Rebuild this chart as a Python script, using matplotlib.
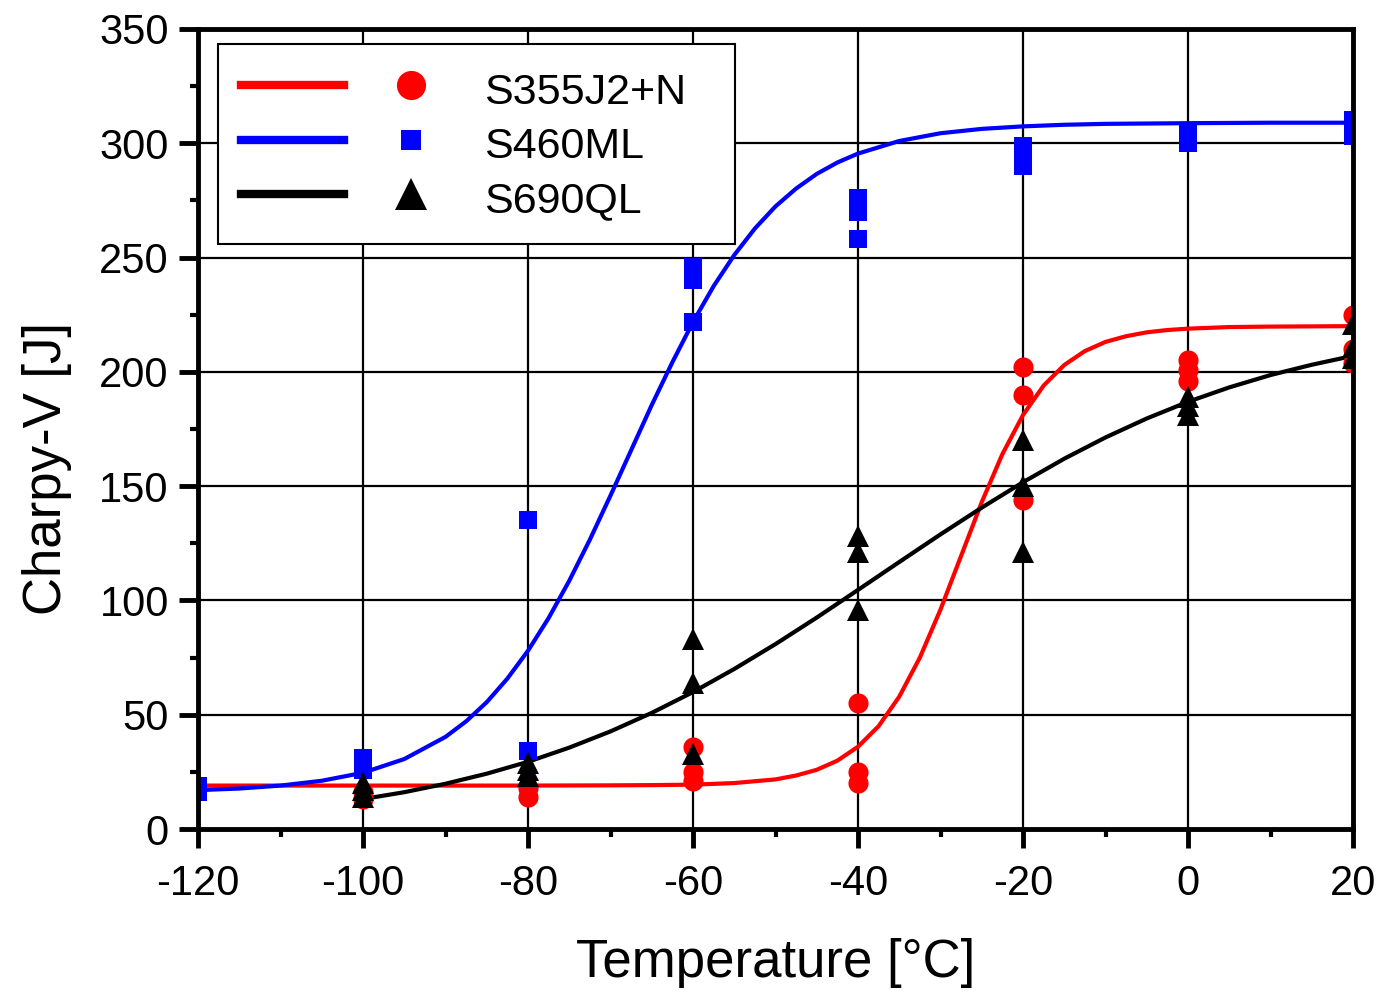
import matplotlib
matplotlib.use('Agg')
import matplotlib.pyplot as plt
from matplotlib.lines import Line2D
from matplotlib.legend_handler import HandlerTuple
from matplotlib.ticker import MultipleLocator

plt.rcParams['font.family'] = ['Liberation Sans', 'DejaVu Sans']
plt.rcParams['axes.unicode_minus'] = False

# measured Charpy-V values (temperature, energy)
s355_T = [-100, -100, -80, -80, -60, -60, -60, -40, -40, -40, -20, -20, -20, 0, 0, 0, 20, 20, 20]
s355_E = [13, 16, 14, 18, 36, 25, 21, 55, 25, 20, 202, 190, 144, 205, 201, 196, 225, 210, 204]

s460_T = [-120, -120, -100, -100, -80, -80, -60, -60, -60, -40, -40, -40, -20, -20, -20, 0, 0, 20, 20]
s460_E = [16, 19, 26, 31, 135, 34, 246, 240, 222, 276, 270, 258, 299, 294, 290, 305, 300, 310, 303]

s690_T = [-100, -100, -100, -80, -80, -80, -60, -60, -60, -40, -40, -40, -20, -20, -20, 0, 0, 0, 20, 20, 20]
s690_E = [20, 17, 14, 29, 26, 23, 83, 64, 33, 128, 121, 96, 170, 150, 121, 189, 185, 181, 221, 211, 206]

# fitted transition curves
s355_fit_T = [-120, -100, -80, -70, -65, -60, -55, -50, -47.5, -45, -42.5, -40, -37.5, -35, -32.5,
              -30, -27.5, -25, -22.5, -20, -17.5, -15, -12.5, -10, -7.5, -5, -2.5, 0, 5, 10, 20]
s355_fit_E = [19.0, 19.0, 19.0, 19.1, 19.2, 19.4, 20.1, 21.7, 23.4, 25.9, 29.9, 36.0, 45.0, 57.9, 75.0,
              96.0, 119.5, 143.0, 164.0, 181.1, 194.0, 203.0, 209.1, 213.1, 215.6, 217.3, 218.3, 218.9,
              219.6, 219.8, 220.0]

s460_fit_T = [-120, -115, -110, -105, -100, -95, -90, -87.5, -85, -82.5, -80, -77.5, -75, -72.5, -70,
              -67.5, -65, -62.5, -60, -57.5, -55, -52.5, -50, -47.5, -45, -42.5, -40, -35, -30, -25,
              -20, -15, -10, 0, 10, 20]
s460_fit_E = [17.0, 17.7, 19.0, 21.1, 24.6, 30.6, 40.3, 47.1, 55.5, 65.8, 78.0, 92.3, 108.6, 126.6, 145.9,
              165.7, 185.5, 204.2, 221.8, 237.5, 251.1, 262.7, 272.4, 280.2, 286.6, 291.6, 295.5, 301.0,
              304.4, 306.3, 307.4, 308.1, 308.5, 308.8, 309.0, 309.0]

s690_fit_T = [-100, -95, -90, -85, -80, -75, -70, -65, -60, -55, -50, -45, -40, -35, -30, -25, -20,
              -15, -10, -5, 0, 5, 10, 15, 20]
s690_fit_E = [13.1, 16.1, 19.8, 24.2, 29.4, 35.6, 42.7, 50.8, 59.9, 70.0, 80.9, 92.5, 104.6, 116.8,
              128.9, 140.6, 151.7, 162.0, 171.3, 179.6, 186.9, 193.2, 198.6, 203.1, 207.0]

labels = ['S355J2+N', 'S460ML', 'S690QL']
colors = ['#ff0000', '#0000ff', '#000000']

fig = plt.figure(figsize=(13.87, 9.97), dpi=100)
ax = fig.add_axes([198 / 1387, 168 / 997, 1155 / 1387, 800 / 997])

ax.plot(s355_fit_T, s355_fit_E, color=colors[0], lw=3, zorder=3)
ax.plot(s460_fit_T, s460_fit_E, color=colors[1], lw=3, zorder=3)
ax.plot(s690_fit_T, s690_fit_E, color=colors[2], lw=3, zorder=3)

ax.plot(s355_T, s355_E, 'o', color=colors[0], ms=14.5, mew=0, zorder=4)
ax.plot(s460_T, s460_E, 's', color=colors[1], ms=13.5, mew=0, zorder=4)
ax.plot(s690_T, s690_E, '^', color=colors[2], ms=16, mew=0, zorder=4)

ax.set_xlim(-120, 20)
ax.set_ylim(0, 350)
ax.xaxis.set_major_locator(MultipleLocator(20))
ax.xaxis.set_minor_locator(MultipleLocator(10))
ax.yaxis.set_major_locator(MultipleLocator(50))
ax.yaxis.set_minor_locator(MultipleLocator(25))

ax.grid(True, which='major', color='black', lw=1.6)
ax.set_axisbelow(True)
for sp in ax.spines.values():
    sp.set_linewidth(3.5)
    sp.set_zorder(5)

ax.tick_params(which='major', direction='out', length=14, width=3.5, labelsize=30)
ax.tick_params(axis='x', which='major', pad=11)
ax.tick_params(axis='y', which='major', pad=7)
ax.tick_params(which='minor', direction='out', length=6, width=3)

ax.set_xlabel('Temperature [°C]', fontsize=38)
ax.set_ylabel('Charpy-V [J]', fontsize=38)
ax.xaxis.set_label_coords(0.5, -0.136)
ax.yaxis.set_label_coords(-0.109, 0.451)

# Origin-style legend: line segment, then the marker, then the text
handles = []
for c, m, s in zip(colors, ['o', 's', '^'], [21, 15, 23]):
    ln = Line2D([], [], color=c, lw=6)
    mk = Line2D([], [], color=c, marker=m, ls='none', ms=s, mew=0)
    handles.append((ln, mk))

leg = ax.legend(handles, labels, loc='upper left', bbox_to_anchor=(0.0173, 0.75, 0.4476, 0.231),
                mode='expand', borderaxespad=0, fontsize=31, numpoints=1,
                handler_map={tuple: HandlerTuple(ndivide=None, pad=0.36)},
                handlelength=5.15, handleheight=1.2, handletextpad=0.5, labelspacing=0.2,
                borderpad=0.53, fancybox=False, framealpha=1, edgecolor='black')
leg.get_frame().set_linewidth(1.5)
leg.set_zorder(6)

fig.savefig('out.png', dpi=100)
